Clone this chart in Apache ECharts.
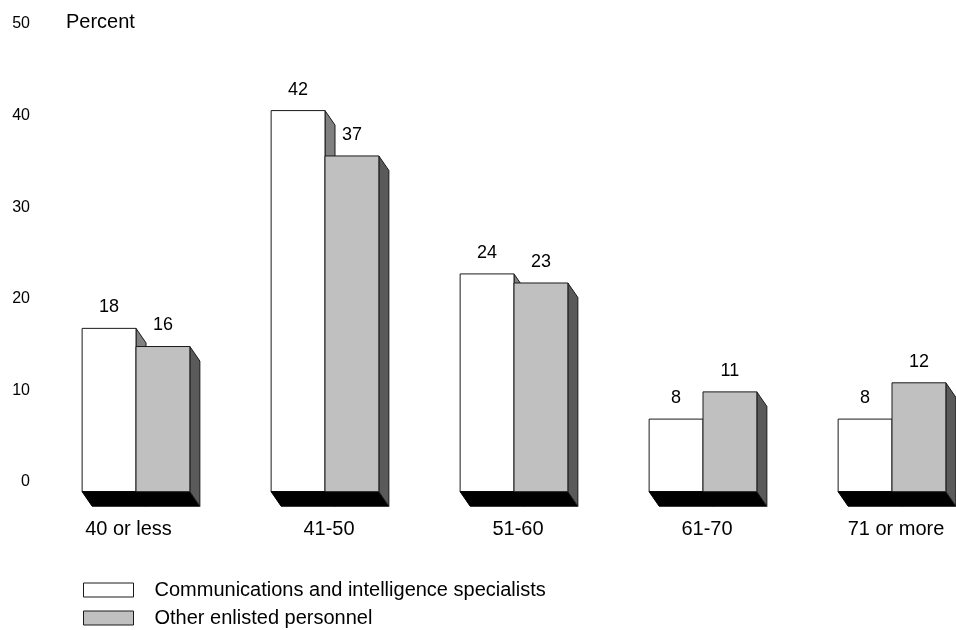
<!DOCTYPE html>
<html>
<head>
<meta charset="utf-8">
<script src="https://cdn.jsdelivr.net/npm/echarts@6/dist/echarts.min.js"></script>
<style>html,body{margin:0;padding:0;background:#fff;}#c{width:956px;height:630px;}</style>
</head>
<body>
<div id="c"></div>
<script>
var categories = ['40 or less', '41-50', '51-60', '61-70', '71 or more'];
var commIntel = [18, 42, 24, 8, 8];
var otherEnlisted = [16, 37, 23, 11, 12];
var seriesNames = ['Communications and intelligence specialists', 'Other enlisted personnel'];
var yTicks = [0, 10, 20, 30, 40, 50];

var FONT = '"Liberation Sans", Arial, Helvetica, sans-serif';
var DX = 10, DY = 14.5;
var frontColors = ['#ffffff', '#c0c0c0'];
var sideColors = ['#808080', '#5a5a5a'];
var EDGE = '#1a1a1a';

function makeRender(sIdx) {
  return function (params, api) {
    var cat = api.value(0);
    var val = api.value(1);
    var top = api.coord([cat, val]);
    var base = api.coord([cat, 0]);
    var band = api.size([1, 0])[0];
    var w = band * 0.285;
    var x0 = sIdx === 0 ? top[0] - w : top[0];
    var x1 = x0 + w;
    var yT = top[1], yB = base[1];
    var children = [];
    children.push({
      type: 'polygon',
      shape: { points: [[x1, yT], [x1 + DX, yT + DY], [x1 + DX, yB + DY], [x1, yB]] },
      style: { fill: sideColors[sIdx], stroke: EDGE, lineWidth: 1 }
    });
    children.push({
      type: 'rect',
      shape: { x: x0, y: yT, width: w, height: yB - yT },
      style: { fill: frontColors[sIdx], stroke: EDGE, lineWidth: 1 }
    });
    if (sIdx === 0) {
      children.push({
        type: 'polygon',
        shape: { points: [[x0, yB], [x0 + 2 * w, yB], [x0 + 2 * w + DX, yB + DY], [x0 + DX, yB + DY]] },
        style: { fill: '#000', stroke: '#000', lineWidth: 1 }
      });
    }
    children.push({
      type: 'text',
      style: {
        x: (x0 + x1) / 2, y: yT - 21, text: String(val),
        textAlign: 'center', textVerticalAlign: 'middle',
        font: '18px ' + FONT, fill: '#000'
      }
    });
    return { type: 'group', children: children };
  };
}

var legendText = { fontFamily: FONT, fontSize: 20, color: '#000', padding: [0, 0, 0, 16] };

var chart = echarts.init(document.getElementById('c'));
chart.setOption({
  animation: false,
  backgroundColor: '#fff',
  title: {
    text: 'Percent', left: 61, top: 7,
    textStyle: { fontFamily: FONT, fontSize: 20, fontWeight: 'normal', color: '#000' }
  },
  grid: [
    { left: 136, right: 0, top: 38, bottom: 138.3, containLabel: false },
    { left: 40, width: 10, top: 24, bottom: 148, containLabel: false }
  ],
  xAxis: [
    {
      type: 'value', gridIndex: 0, min: 0, max: 820 / 189, interval: 1,
      axisLine: { show: false }, axisTick: { show: false }, splitLine: { show: false },
      axisLabel: {
        margin: 28, showMaxLabel: false, showMinLabel: true, color: '#000',
        formatter: function (v) {
          var c = categories[v];
          if (c === undefined || Math.round(v) !== v) return '';
          return v === 0 ? '{f|' + c + '}' : '{n|' + c + '}';
        },
        rich: {
          f: { fontFamily: FONT, fontSize: 20, color: '#000', padding: [0, 15, 0, 0] },
          n: { fontFamily: FONT, fontSize: 20, color: '#000', padding: [0, 0, 0, 8] }
        }
      }
    },
    { type: 'value', gridIndex: 1, show: false, min: 0, max: 1 }
  ],
  yAxis: [
    {
      type: 'value', gridIndex: 0, min: 0, max: 50, interval: 10, show: false
    },
    {
      type: 'value', gridIndex: 1, min: 0, max: 50, interval: 10,
      axisLine: { show: false }, axisTick: { show: false }, splitLine: { show: false },
      axisLabel: {
        margin: 10, fontFamily: FONT, fontSize: 16, color: '#000',
        formatter: function (v) { return yTicks.indexOf(v) >= 0 ? String(v) : ''; }
      }
    }
  ],
  legend: [
    {
      orient: 'vertical', left: 83, top: 580, padding: 0,
      itemWidth: 50, itemHeight: 14, icon: 'rect', textStyle: legendText,
      data: [{ name: seriesNames[0], itemStyle: { color: '#ffffff', borderColor: EDGE, borderWidth: 1 } }]
    },
    {
      orient: 'vertical', left: 83, top: 608, padding: 0,
      itemWidth: 50, itemHeight: 14, icon: 'rect', textStyle: legendText,
      data: [{ name: seriesNames[1], itemStyle: { color: '#c0c0c0', borderColor: EDGE, borderWidth: 1 } }]
    }
  ],
  series: [
    {
      type: 'custom', name: seriesNames[0], renderItem: makeRender(0), clip: false,
      xAxisIndex: 0, yAxisIndex: 0,
      itemStyle: { color: '#ffffff' },
      data: commIntel.map(function (v, i) { return [i, v]; }), z: 2
    },
    {
      type: 'custom', name: seriesNames[1], renderItem: makeRender(1), clip: false,
      xAxisIndex: 0, yAxisIndex: 0,
      itemStyle: { color: '#c0c0c0' },
      data: otherEnlisted.map(function (v, i) { return [i, v]; }), z: 3
    }
  ]
});
</script>
</body>
</html>
